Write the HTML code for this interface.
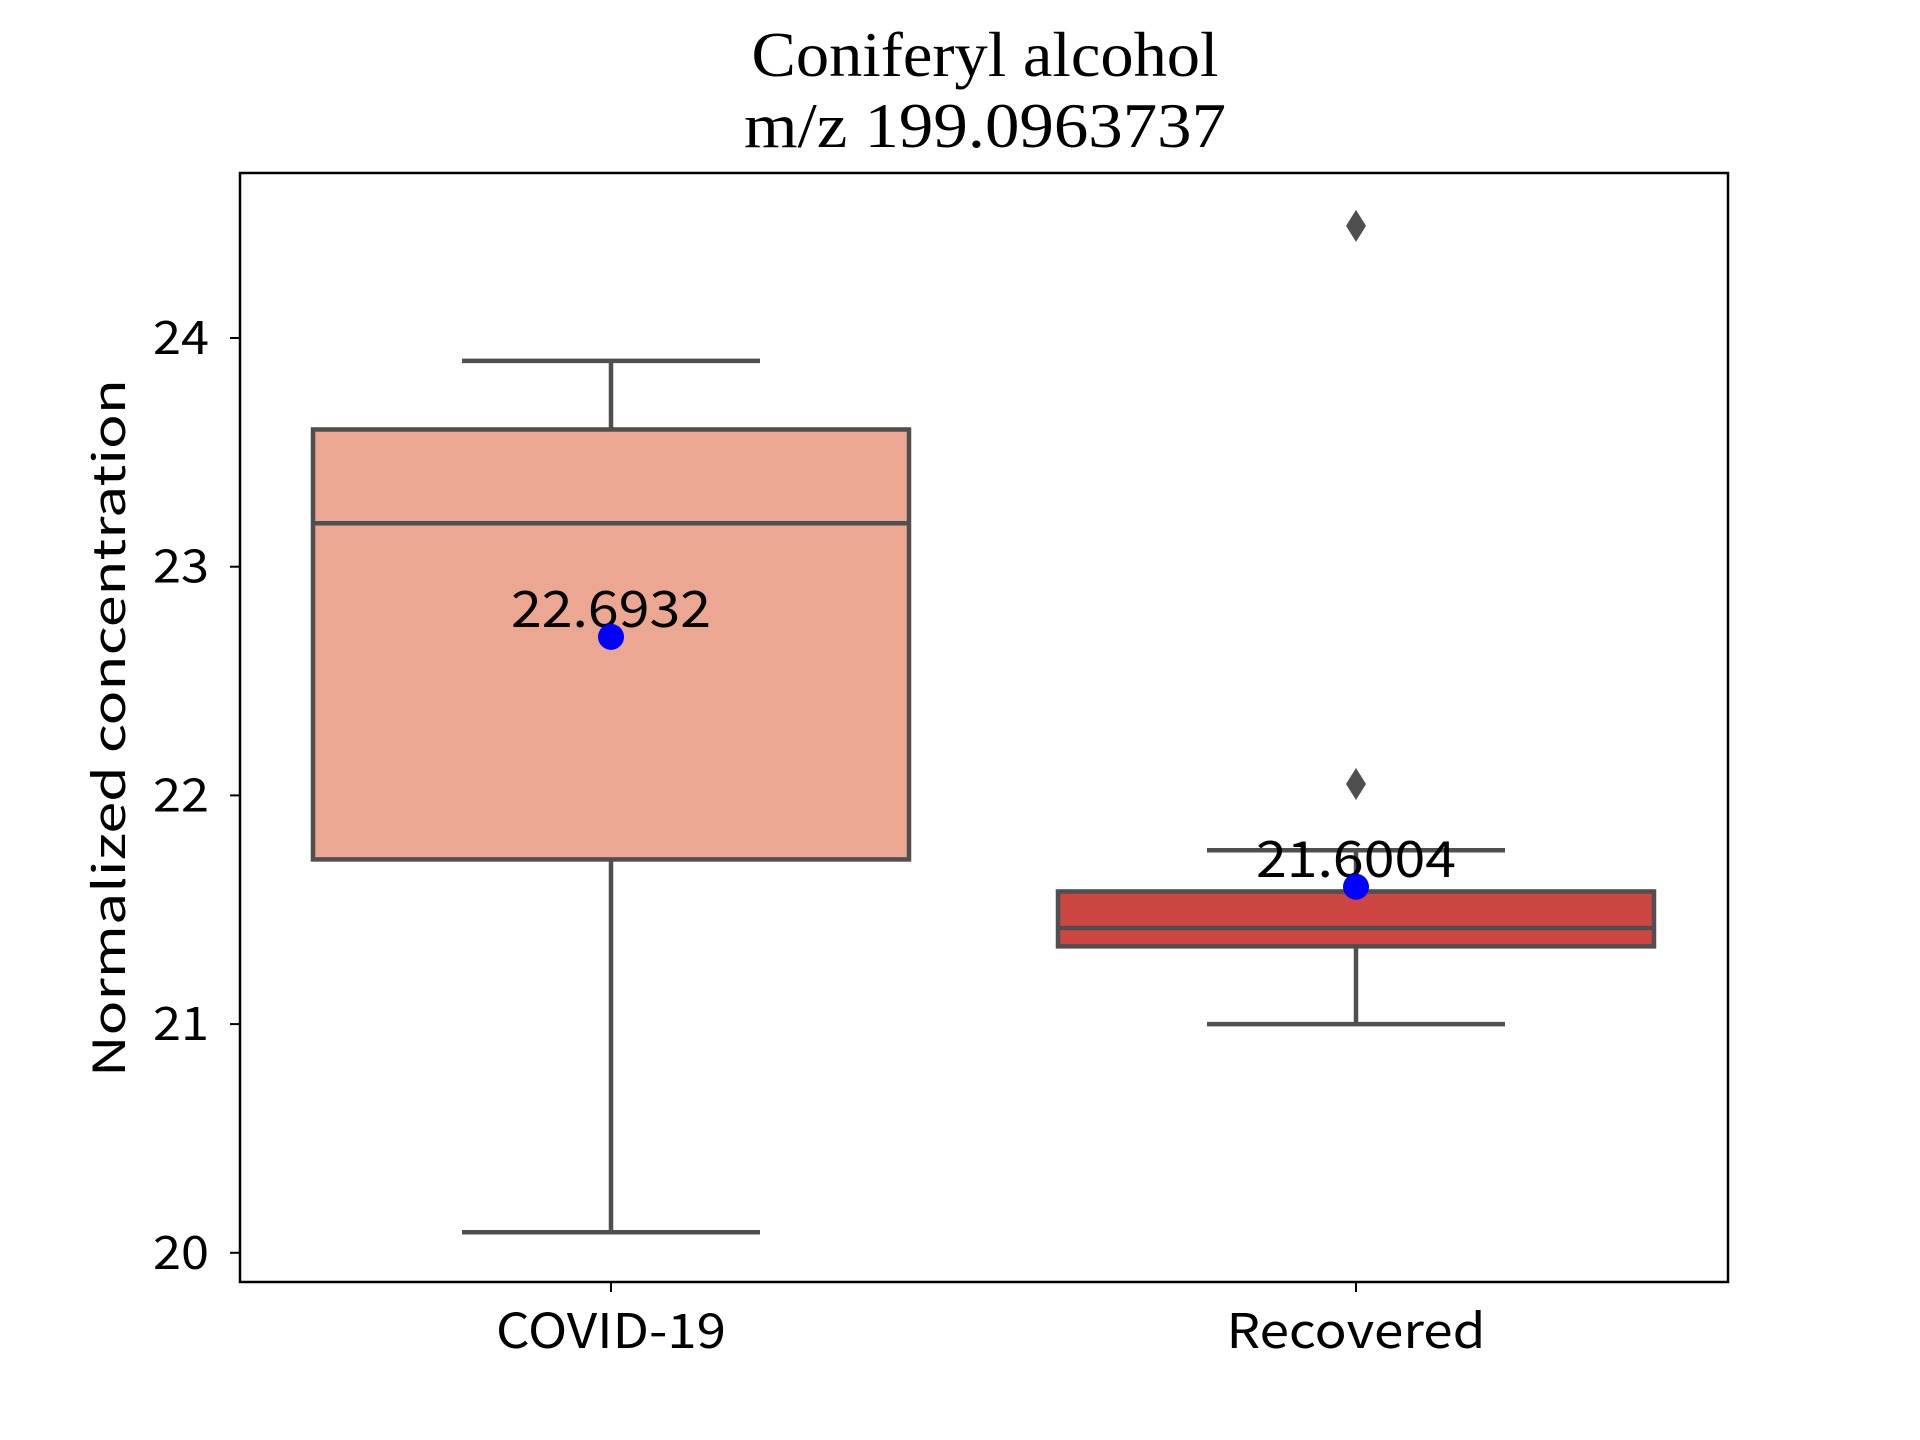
<!DOCTYPE html>
<html><head><meta charset="utf-8"><style>
html,body{margin:0;padding:0;background:#fff;}
svg{display:block;}
</style></head><body>
<svg id="chart" width="1920" height="1440" xmlns="http://www.w3.org/2000/svg">
<text x="985" y="76" text-anchor="middle" font-family="Liberation Serif, serif" font-size="64" textLength="467" lengthAdjust="spacingAndGlyphs">Coniferyl alcohol</text>
<text x="985" y="147" text-anchor="middle" font-family="Liberation Serif, serif" font-size="64" textLength="482" lengthAdjust="spacingAndGlyphs">m/z  199.0963737</text>
<g id="plot"></g>
<rect x="240" y="173" width="1488" height="1109" fill="none" stroke="#000" stroke-width="2.5"/>
<text transform="translate(125,728) rotate(-90)" text-anchor="middle" font-family="'WenQuanYi Zen Hei','Noto Sans CJK SC',monospace" font-size="44" textLength="698" lengthAdjust="spacingAndGlyphs">Normalized concentration</text>
</svg>
<script>
const categories = ["COVID-19", "Recovered"];
const q1 = [21.72, 21.34];
const q3 = [23.6, 21.58];
const medians = [23.19, 21.42];
const whiskerLow = [20.09, 21.0];
const whiskerHigh = [23.9, 21.76];
const means = [22.6932, 21.6004];
const meanLabels = ["22.6932", "21.6004"];
const outliersX = [1, 1];
const outliersY = [24.49, 22.05];
const yTicks = [20, 21, 22, 23, 24];
const colors = ["#eca792", "#cc4540"];

const NS = "http://www.w3.org/2000/svg";
const plot = document.getElementById("plot");
const yScale = v => 338 + (24 - v) * 228.7;
const xScale = i => 611 + i * 745;
const boxW = 596;
const FONT = "'WenQuanYi Zen Hei','Noto Sans CJK SC',monospace";
function mk(tag, attrs) {
  const e = document.createElementNS(NS, tag);
  for (const k in attrs) e.setAttribute(k, attrs[k]);
  plot.appendChild(e);
  return e;
}
yTicks.forEach(t => {
  const y = yScale(t);
  const tk = mk("line", {x1: 230, x2: 240, y1: y, y2: y, stroke: "#000", "stroke-width": 2});
  
  
  const lb = mk("text", {x: 209, y: y + 16, "text-anchor": "end", "font-family": FONT, "font-size": 46, textLength: 56, lengthAdjust: "spacingAndGlyphs"});
  lb.textContent = String(t);
  
  
});
categories.forEach((c, i) => {
  const cx = xScale(i);
  const tk = mk("line", {x1: cx, x2: cx, y1: 1282, y2: 1292, stroke: "#000", "stroke-width": 2});
  
  
  const lb = mk("text", {x: cx, y: 1348, "text-anchor": "middle", "font-family": FONT, "font-size": 48, textLength: c.length > 8 ? 259 : 230, lengthAdjust: "spacingAndGlyphs"});
  lb.textContent = c;
  
  
  const st = {stroke: "#4f4f4f", "stroke-width": 4.5};
  const w1 = mk("line", Object.assign({x1: cx, x2: cx, y1: yScale(q3[i]), y2: yScale(whiskerHigh[i])}, st));
  
  
  const w2 = mk("line", Object.assign({x1: cx, x2: cx, y1: yScale(q1[i]), y2: yScale(whiskerLow[i])}, st));
  
  
  const c1 = mk("line", Object.assign({x1: cx - boxW / 4, x2: cx + boxW / 4, y1: yScale(whiskerHigh[i]), y2: yScale(whiskerHigh[i])}, st));
  
  
  const c2 = mk("line", Object.assign({x1: cx - boxW / 4, x2: cx + boxW / 4, y1: yScale(whiskerLow[i]), y2: yScale(whiskerLow[i])}, st));
  
  
  const bx = mk("rect", Object.assign({x: cx - boxW / 2, y: yScale(q3[i]), width: boxW, height: yScale(q1[i]) - yScale(q3[i]), fill: colors[i]}, st));
  
  
  const md = mk("line", Object.assign({x1: cx - boxW / 2, x2: cx + boxW / 2, y1: yScale(medians[i]), y2: yScale(medians[i])}, st));
  
  
});
outliersY.forEach((v, j) => {
  const cx = xScale(outliersX[j]), cy = yScale(v);
  const o = mk("polygon", {points: `${cx},${cy - 16} ${cx + 10},${cy} ${cx},${cy + 16} ${cx - 10},${cy}`, fill: "#4f4f4f"});
  
  
});
means.forEach((m, i) => {
  const cx = xScale(i), cy = yScale(m);
  const lb = mk("text", {x: cx, y: cy - 10, "text-anchor": "middle", "font-family": FONT, "font-size": 50, textLength: 200, lengthAdjust: "spacingAndGlyphs"});
  lb.textContent = meanLabels[i];
  
  
  const d = mk("circle", {cx: cx, cy: cy, r: 13, fill: "#0000ff"});
  
  
});
</script>
</body></html>
